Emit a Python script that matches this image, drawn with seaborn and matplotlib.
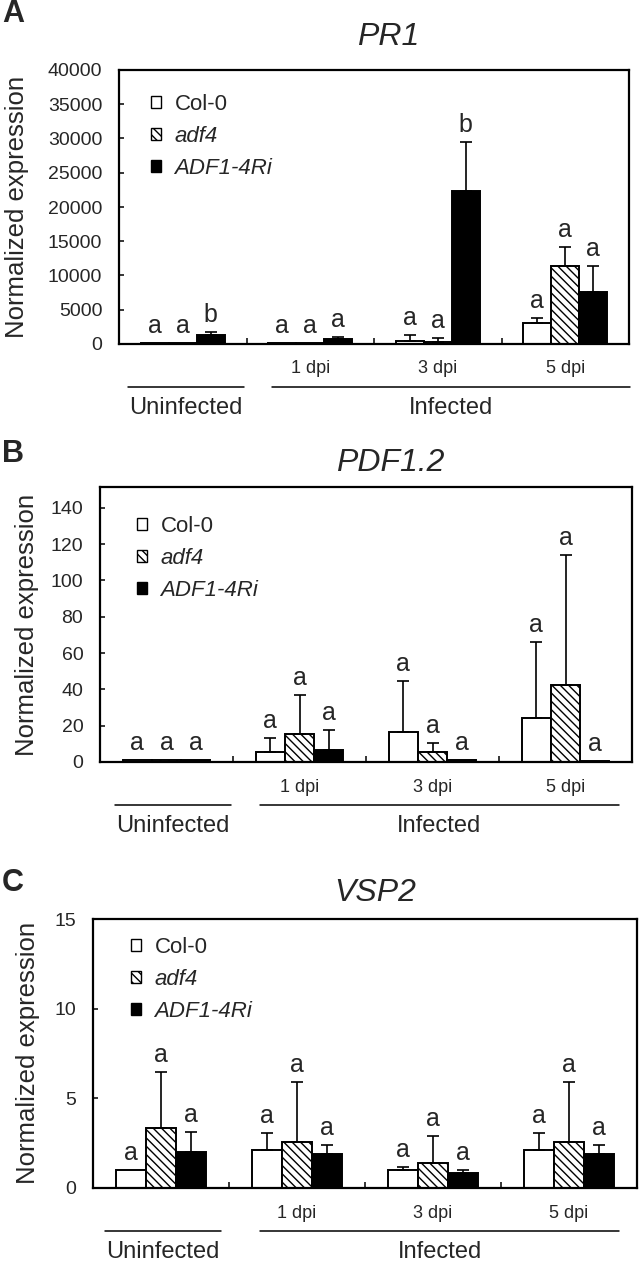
import numpy as np
import pandas as pd
import matplotlib
matplotlib.use("Agg")
import matplotlib.pyplot as plt
import matplotlib.transforms as mtransforms
from matplotlib.patches import Patch
import seaborn as sns

# ---------------- data ----------------
groups = ["Uninfected", "1 dpi", "3 dpi", "5 dpi"]
genotypes = ["Col-0", "adf4", "ADF1-4Ri"]

# PR1
pr1_col0 = [150, 150, 450, 3100]
pr1_col0_err = [0, 0, 800, 750]
pr1_adf4 = [150, 150, 350, 11400]
pr1_adf4_err = [0, 0, 550, 2800]
pr1_ri = [1300, 800, 22300, 7600]
pr1_ri_err = [500, 250, 7200, 3800]
pr1_let_col0 = ["a", "a", "a", "a"]
pr1_let_adf4 = ["a", "a", "a", "a"]
pr1_let_ri = ["b", "a", "b", "a"]
pr1_yticks = [0, 5000, 10000, 15000, 20000, 25000, 30000, 35000, 40000]

# PDF1.2
pdf_col0 = [1.0, 5.5, 16.8, 24.4]
pdf_col0_err = [0, 7.6, 27.6, 41.9]
pdf_adf4 = [1.0, 15.3, 5.5, 42.6]
pdf_adf4_err = [0, 21.5, 4.9, 71.2]
pdf_ri = [1.0, 6.4, 0.9, 0.8]
pdf_ri_err = [0, 11.3, 0, 0]
pdf_let_col0 = ["a", "a", "a", "a"]
pdf_let_adf4 = ["a", "a", "a", "a"]
pdf_let_ri = ["a", "a", "a", "a"]
pdf_yticks = [0, 20, 40, 60, 80, 100, 120, 140]

# VSP2
vsp_col0 = [1.0, 2.11, 0.99, 2.11]
vsp_col0_err = [0, 0.94, 0.19, 0.94]
vsp_adf4 = [3.36, 2.58, 1.40, 2.58]
vsp_adf4_err = [3.09, 3.31, 1.5, 3.31]
vsp_ri = [1.98, 1.89, 0.84, 1.89]
vsp_ri_err = [1.16, 0.5, 0.15, 0.5]
vsp_let_col0 = ["a", "a", "a", "a"]
vsp_let_adf4 = ["a", "a", "a", "a"]
vsp_let_ri = ["a", "a", "a", "a"]
vsp_yticks = [0, 5, 10, 15]

# ---------------- style ----------------
sns.set_style("ticks")
plt.rcParams["font.family"] = ["Liberation Sans", "DejaVu Sans"]
plt.rcParams["hatch.linewidth"] = 1.0

W, H = 641, 1261
fig = plt.figure(figsize=(W / 100, H / 100), dpi=100)
HATCH = "\\\\\\\\"


def make_df(c, a, r):
    rows = []
    for vals, name in zip([c, a, r], genotypes):
        for grp, v in zip(groups, vals):
            rows.append({"group": grp, "genotype": name, "value": v})
    return pd.DataFrame(rows)


def px_axes(l, t, r, b):
    return fig.add_axes([l / W, 1 - b / H, (r - l) / W, (b - t) / H])


def panel(box, means, errs, letters, ylim, yticks, title, title_xy,
          plabel, plabel_y, ylabel_xy, leg_anchor, unin_x, inf_x):
    ax = px_axes(*box)
    df = make_df(*means)
    sns.barplot(data=df, x="group", y="value", hue="genotype",
                order=groups, hue_order=genotypes,
                palette=["white", "white", "black"], saturation=1,
                edgecolor="black", linewidth=1.4, width=0.66,
                errorbar=None, legend=False, ax=ax)
    for patch in ax.containers[1]:
        patch.set_hatch(HATCH)
    for cont, err, lets in zip(ax.containers, errs, letters):
        for bar, e, lt in zip(cont, err, lets):
            x = bar.get_x() + bar.get_width() / 2
            h = bar.get_height()
            if e > 0:
                ax.errorbar([x], [h], yerr=[[0], [e]], fmt="none",
                            ecolor="black", elinewidth=1.2, capsize=4,
                            capthick=1.2, zorder=3)
            ax.annotate(lt, (x, h + e), xytext=(0, 17),
                        textcoords="offset pixels", ha="center",
                        va="center", fontsize=18, annotation_clip=False)

    ax.set_xlim(-0.5, 3.5)
    ax.set_ylim(*ylim)
    ax.set_yticks(yticks)
    ax.set_xticks([0.5, 1.5, 2.5])
    ax.set_xticklabels([])
    ax.set_xlabel("")
    ax.set_ylabel("")
    ax.tick_params(axis="y", direction="in", length=3.8, width=1.3,
                   pad=12, labelsize=14, left=True)
    ax.tick_params(axis="x", direction="in", length=4.5, width=1.3,
                   bottom=True)
    for s in ax.spines.values():
        s.set_visible(True)
        s.set_linewidth(1.6)
        s.set_color("black")

    # legend
    handles = [Patch(facecolor="white", edgecolor="black", lw=1.0),
               Patch(facecolor="white", edgecolor="black", lw=1.0, hatch=HATCH),
               Patch(facecolor="black", edgecolor="black", lw=1.0)]
    leg = ax.legend(handles, genotypes, loc="upper left",
                    bbox_to_anchor=leg_anchor, frameon=False, fontsize=16,
                    handlelength=0.45, handleheight=0.45, handletextpad=0.6,
                    labelspacing=0.5, borderpad=0, borderaxespad=0)
    for t in leg.get_texts()[1:]:
        t.set_fontstyle("italic")

    # dpi labels
    for i in range(1, 4):
        ax.annotate(groups[i], (i, 0), xytext=(0, -25),
                    textcoords="offset pixels", ha="center", va="center",
                    fontsize=13, annotation_clip=False)
    # bracket lines + group labels
    tr = mtransforms.offset_copy(ax.transData, fig=fig, x=0, y=-43,
                                 units="dots")
    for (x0, x1), lab in zip([unin_x, inf_x], ["Uninfected", "Infected"]):
        ax.plot([x0, x1], [0, 0], transform=tr, color="black", lw=1.1,
                clip_on=False)
        ax.annotate(lab, ((x0 + x1) / 2, 0), xytext=(0, -64),
                    textcoords="offset pixels", ha="center", va="center",
                    fontsize=17, annotation_clip=False)

    fig.text(title_xy[0] / W, 1 - title_xy[1] / H, title, style="italic",
             fontsize=23, ha="center", va="center")
    fig.text(2 / W, 1 - plabel_y / H, plabel, weight="bold", fontsize=22,
             ha="left", va="center")
    fig.text(ylabel_xy[0] / W, 1 - ylabel_xy[1] / H, "Normalized expression",
             rotation=90, ha="center", va="center", fontsize=18.5)
    return ax


panel((119, 70, 629, 344),
      (pr1_col0, pr1_adf4, pr1_ri),
      (pr1_col0_err, pr1_adf4_err, pr1_ri_err),
      (pr1_let_col0, pr1_let_adf4, pr1_let_ri),
      (0, 40000), pr1_yticks, "PR1", (388, 37), "A", 14, (17, 207),
      (0.063, 0.912), (-0.43, 0.48), (0.70, 3.51))

panel((100, 487, 632, 762),
      (pdf_col0, pdf_adf4, pdf_ri),
      (pdf_col0_err, pdf_adf4_err, pdf_ri_err),
      (pdf_let_col0, pdf_let_adf4, pdf_let_ri),
      (0, 151.5), pdf_yticks, "PDF1.2", (390, 463), "B", 454, (27, 625),
      (0.07, 0.895), (-0.39, 0.485), (0.70, 3.40))

panel((93, 919, 637, 1188),
      (vsp_col0, vsp_adf4, vsp_ri),
      (vsp_col0_err, vsp_adf4_err, vsp_ri_err),
      (vsp_let_col0, vsp_let_adf4, vsp_let_ri),
      (0, 15), vsp_yticks, "VSP2", (375, 893), "C", 883, (28, 1053),
      (0.07, 0.933), (-0.41, 0.44), (0.73, 3.37))

fig.savefig("out.png", dpi=100)
